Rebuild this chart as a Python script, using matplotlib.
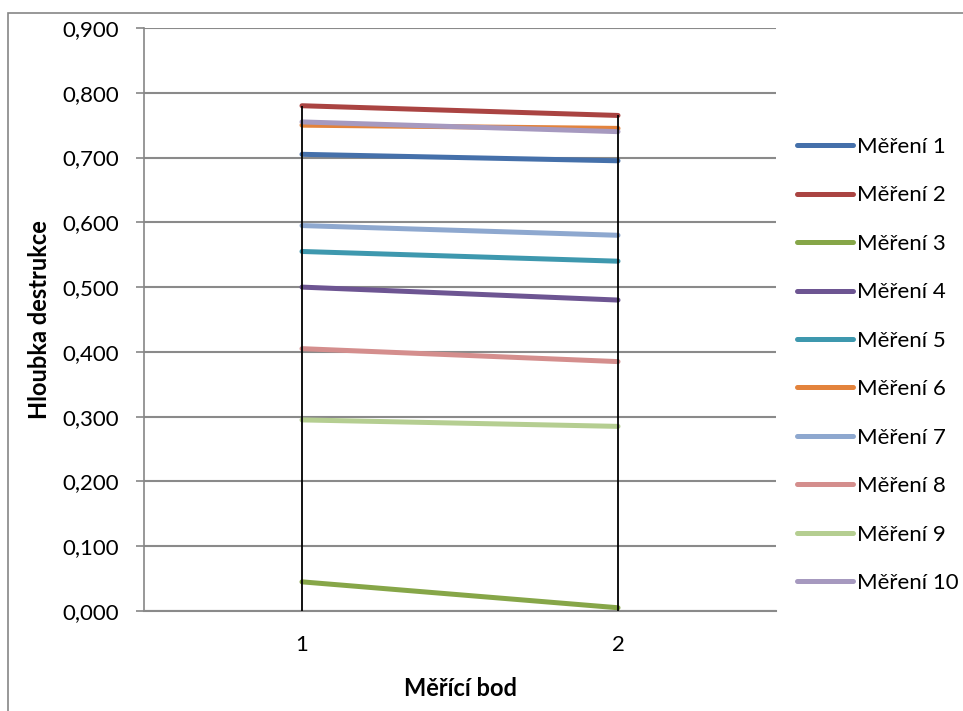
import matplotlib
matplotlib.use("Agg")
import matplotlib.pyplot as plt
from matplotlib.patches import Rectangle

plt.rcParams['font.family'] = ['Lato', 'DejaVu Sans']

categories = ["1", "2"]
series_names = ["Měření 1", "Měření 2", "Měření 3", "Měření 4", "Měření 5",
                "Měření 6", "Měření 7", "Měření 8", "Měření 9", "Měření 10"]
m1 = [0.705, 0.695]
m2 = [0.780, 0.765]
m3 = [0.045, 0.005]
m4 = [0.500, 0.480]
m5 = [0.555, 0.540]
m6 = [0.750, 0.745]
m7 = [0.595, 0.580]
m8 = [0.405, 0.385]
m9 = [0.295, 0.285]
m10 = [0.755, 0.740]
series_values = [m1, m2, m3, m4, m5, m6, m7, m8, m9, m10]
colors = ["#4570AA", "#AA4442", "#86A648", "#6D5592", "#3E98AE",
          "#E3833C", "#8EA8CF", "#D48E8D", "#B5CE91", "#A699BF"]
yticks = [0.0, 0.1, 0.2, 0.3, 0.4, 0.5, 0.6, 0.7, 0.8, 0.9]

W, H = 963, 711
fig = plt.figure(figsize=(W / 100, H / 100), dpi=100)
ax = fig.add_axes([144 / W, 100 / H, (776 - 144) / W, (611 - 28) / H])

x = list(range(1, len(categories) + 1))
for name, vals, c in zip(series_names, series_values, colors):
    ax.plot(x, vals, color=c, lw=3.6, label=name, solid_capstyle='round', zorder=3)

# drop lines
maxes = [max(v[i] for v in series_values) for i in range(len(categories))]
ax.vlines(x, 0, maxes, color='black', lw=1.3, zorder=4)

ax.set_xlim(0.5, len(categories) + 0.5)
ax.set_ylim(0, 0.9)
ax.set_yticks(yticks)
ax.set_yticklabels([f"{t:.3f}".replace('.', ',') for t in yticks], fontsize=16)
ax.set_xticks(x)
ax.set_xticklabels(categories, fontsize=16)
ax.tick_params(axis='x', length=0, pad=17)
ax.tick_params(axis='y', length=6, color='#868686', width=1.2, pad=12)
ax.yaxis.grid(True, color='#8A8A8A', lw=1.5)
ax.set_axisbelow(True)
for s in ['top', 'right']:
    ax.spines[s].set_visible(False)
ax.spines['left'].set_color('#868686')
ax.spines['left'].set_linewidth(1.2)
ax.spines['bottom'].set_color('#8A8A8A')
ax.spines['bottom'].set_linewidth(1.5)

ax.set_ylabel("Hloubka destrukce", fontsize=17, fontweight='bold', labelpad=8)
ax.set_xlabel("Měřící bod", fontsize=17, fontweight='bold', labelpad=16)

leg = ax.legend(loc='upper left', bbox_to_anchor=(797 / W, (711 - 137) / H),
                bbox_transform=fig.transFigure, frameon=False, fontsize=16,
                handlelength=2.5, handletextpad=0.22, labelspacing=1.28,
                borderaxespad=0, borderpad=0)
for line in leg.get_lines():
    line.set_linewidth(3.6)

fig.patches.append(Rectangle((8 / W, -0.1), 1.2, (711 - 13) / H + 0.1,
                             transform=fig.transFigure, fill=False,
                             edgecolor='#868686', lw=1.2, clip_on=False))

fig.savefig("out.png", dpi=100)
